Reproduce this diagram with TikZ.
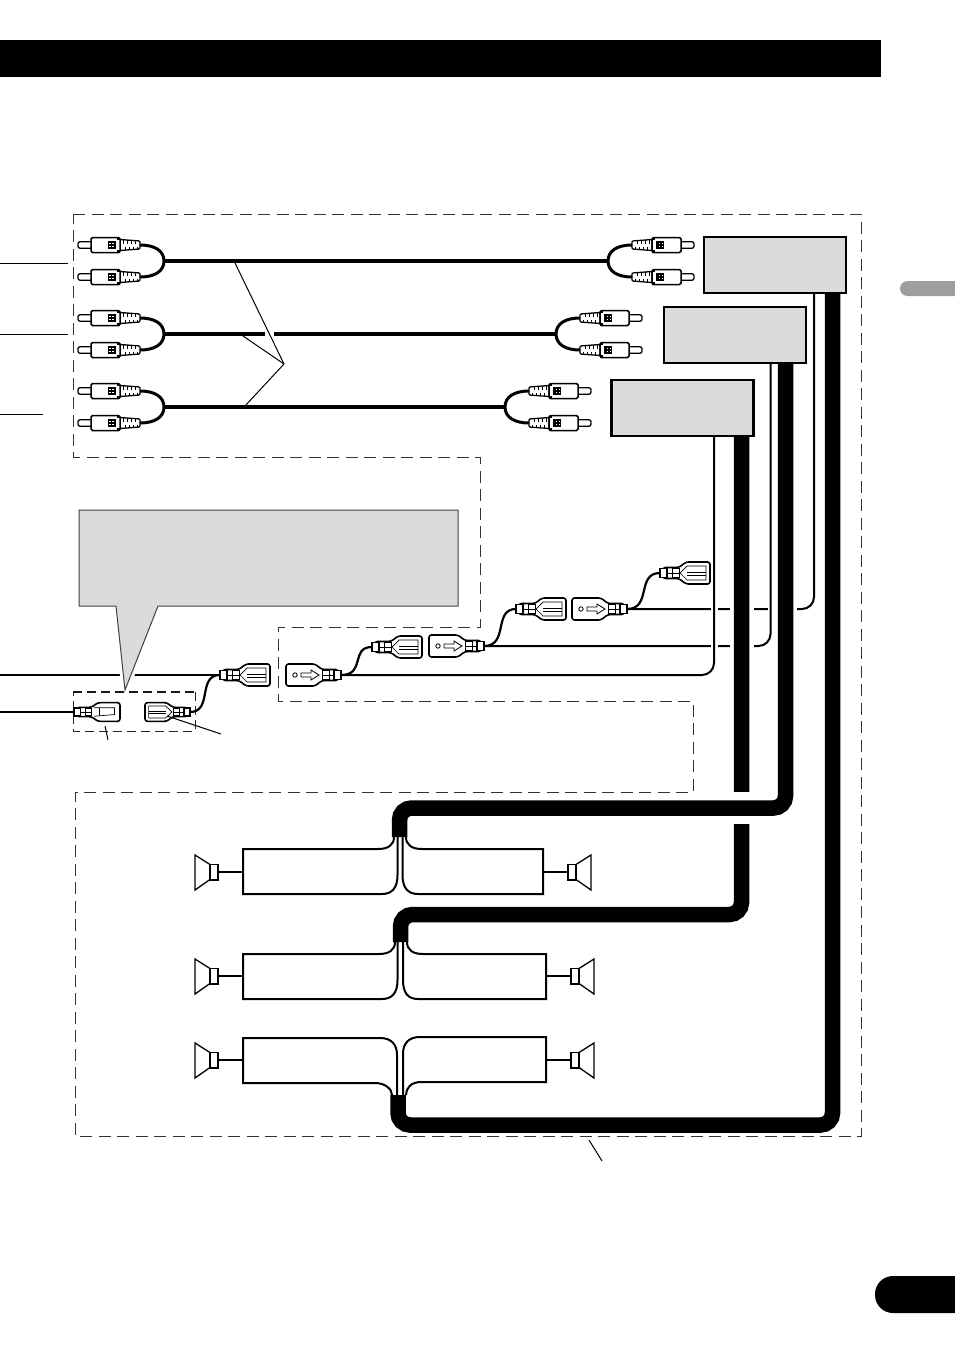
\documentclass[tikz,border=0pt]{standalone}
\definecolor{panelgray}{gray}{0.86}
\definecolor{tabgray}{gray}{0.62}
\newcommand{\plugneck}{%
    \draw[line width=1.6pt,fill=white,rounded corners=2.5pt]
        (3,-5.5) -- (19,-5.5) -- (26,-11) -- (\plughood,-11) -- (\plughood,11) -- (26,11) -- (19,5.5) -- (3,5.5) -- cycle;
    \draw[line width=1.8pt,fill=white] (0,-4.5) rectangle (7,4.5);
    \draw[line width=.7pt] (12,-4.5) rectangle (19,4.5);
    \draw[line width=.7pt] (7,0) -- (19,0);
}
\newcommand{\rcabody}{%
    \draw[line width=1.3pt,fill=white,rounded corners=2pt] (15,-3.2) -- (1,-3.2) -- (1,3.2) -- (15,3.2);
    \draw[line width=1.3pt,fill=white,rounded corners=1pt] (43,-5.5) -- (63,-4) -- (63,4) -- (43,5.5) -- cycle;
    \foreach \ribx in {46,50,54,58} {
        \draw[line width=.9pt] (\ribx,-5) -- (\ribx,-1.5);
        \draw[line width=.9pt] (\ribx+2,5) -- (\ribx+2,1.5);
    }
    \draw[line width=1.5pt,fill=white,rounded corners=1.5pt] (14,-7.5) rectangle (43,7.5);
    \fill (31,-3.7) rectangle (39,3.7);
    \draw[white,line width=1pt,dash pattern=on 1.5pt off 1.5pt] (32,-1.5) -- (38,-1.5);
    \draw[white,line width=1pt,dash pattern=on 1.5pt off 1.5pt] (32,1.5) -- (38,1.5);
    \fill (43,-7.5) rectangle (40,-5);
    \fill (43,7.5) rectangle (40,5);
}
\tikzset{
    plugA/.pic={
        \def\plughood{50}
        \plugneck
        \draw[line width=.7pt] (20,0) -- (27,-7) -- (46,-7) -- (46,7) -- (27,7) -- cycle;
        \draw[line width=.7pt] (27,-1) -- (46,-1);
        \draw[line width=.7pt] (27,2) -- (46,2);
    },
    plugB/.pic={
        \def\plughood{55}
        \plugneck
        \draw[line width=.8pt] (46,0) circle (2.2pt);
        \draw[line width=.8pt] (40,-2) -- (30,-2) -- (30,-5) -- (22,0) -- (30,5) -- (30,2) -- (40,2) -- cycle;
    },
    plugC/.pic={
        \def\plughood{50}
        \plugneck
        \draw[line width=.7pt] (22,-5) -- (44,-5) -- (44,3) -- (22,5);
        \draw[line width=.7pt] (28,-5) -- (28,5);
    },
    rcapair/.pic={
        \begin{scope}[shift={(-87,-16)}]
            \rcabody
        \end{scope}
        \begin{scope}[shift={(-87,16)}]
            \rcabody
        \end{scope}
        \draw[line width=3pt] (-24,-16) .. controls (-9,-16) and (0,-10) .. (0,0)
            .. controls (0,10) and (-9,16) .. (-24,16);
    },
    speaker/.pic={
        \draw[line width=1.3pt,fill=white] (0,-7.5) -- (-15,-17) -- (-15,18) -- (0,7.5) -- cycle;
        \draw[line width=1.3pt,fill=white] (0,-7.5) rectangle (8,8);
    },
    frameline/.style={line width=1pt,black!80,dash pattern=on 12pt off 6.5pt},
    audiounit/.style={draw,line width=2.2pt,fill=panelgray,inner sep=0pt,minimum width=142pt,minimum height=56pt},
    mainwire/.style={line width=3.6pt},
    plugwire/.style={line width=2.2pt},
    bundle/.style={line width=15.5pt,rounded corners=12pt,line cap=butt},
    thinwire/.style={line width=2pt,rounded corners=12pt},
    boxwire/.style={line width=2pt},
    leader/.style={line width=1pt},
    clearing/.style={white,line cap=butt},
}
\begin{document}
\begin{tikzpicture}[x=1pt,y=-1pt]
    \useasboundingbox (0,0) rectangle (954,1351);
    % page furniture
    \fill (0,40) rectangle (881,77);
    \fill[tabgray,rounded corners=7.5pt] (900,281) -- (970,281) -- (970,296) -- (900,296) -- cycle;
    \fill[rounded corners=18pt] (875,1313) -- (875,1276) -- (980,1276) -- (980,1313) -- cycle;

    % dashed frames
    \draw[frameline] (73,214) -- (861,214) -- (861,1136) -- (75,1136) -- (75,792) -- (693,792)
        -- (693,701) -- (278,701) -- (278,627) -- (480,627) -- (480,457) -- (73,457) -- cycle;

    % source side wire and speech bubble
    \coordinate (headA) at (0,675);
    \coordinate (headB) at (0,712);
    \coordinate (plugOne) at (220,675);
    \coordinate (plugTwo) at (74,712);
    \draw[plugwire] (headA) -- (plugOne);
    \draw[plugwire] (headB) -- (plugTwo);
    \draw[clearing,line width=7pt] (116,606) -- (125,690) -- (158,606);
    \draw[black!75,line width=1pt,fill=panelgray] (79,510) -- (458,510) -- (458,606) -- (158,606)
        -- (125,690) -- (116,606) -- (79,606) -- cycle;
    \draw[line width=2pt,black!90,dash pattern=on 9pt off 5pt] (73,692) -- (195,692);
    \draw[line width=1pt,black!85,dash pattern=on 9pt off 5pt] (195,692) -- (195,731) -- (73,731) -- (73,692);

    % rca leads
    \coordinate (jointAl) at (164,261);
    \coordinate (jointAr) at (608,261);
    \coordinate (jointBl) at (164,334);
    \coordinate (jointBr) at (556,334);
    \coordinate (jointCl) at (164,407);
    \coordinate (jointCr) at (505,407);
    \draw[mainwire] (jointAl) -- (jointAr);
    \draw[mainwire] (jointBl) -- (jointBr);
    \draw[mainwire] (jointCl) -- (jointCr);
    \pic at (jointAl) {rcapair};
    \pic at (jointBl) {rcapair};
    \pic at (jointCl) {rcapair};
    \pic[xscale=-1] at (jointAr) {rcapair};
    \pic[xscale=-1] at (jointBr) {rcapair};
    \pic[xscale=-1] at (jointCr) {rcapair};
    \draw[clearing,line width=9pt] (269.5,331) -- (269.5,337);
    \coordinate (leadTip) at (284,364);
    \draw[leader] (leadTip) -- (235,263);
    \draw[leader] (leadTip) -- (243,336);
    \draw[leader] (leadTip) -- (245,406);
    \coordinate (tickA) at (68,263);
    \coordinate (tickB) at (68,334);
    \coordinate (tickC) at (43,414);
    \draw[leader] (0,263) -- (tickA);
    \draw[leader] (0,334) -- (tickB);
    \draw[leader] (0,414) -- (tickC);

    % wires to the units
    \coordinate (plugEleven) at (627,609);
    \coordinate (plugNine) at (484,646);
    \coordinate (plugSeven) at (341,675);
    \coordinate (bundleBtop) at (785.5,363);
    \coordinate (bundleCtop) at (741.5,436);
    \draw[thinwire] (plugEleven) -- (814,609) -- (814,293);
    \draw[clearing,line width=23pt] (785.5,600) -- (785.5,620);
    \draw[clearing,line width=6pt] (770.5,600) -- (770.5,618);
    \draw[thinwire] (plugNine) -- (770.5,646) -- (770.5,363);
    \draw[clearing,line width=24pt] (741.5,600) -- (741.5,655);
    \draw[clearing,line width=7pt] (714,600) -- (714,655);
    \draw[thinwire] (plugSeven) -- (714,675) -- (714,436);

    % power cords
    \coordinate (bundleA) at (398,1095);
    \coordinate (bundleB) at (399.5,837);
    \coordinate (bundleC) at (400.5,942);
    \draw[bundle] (bundleCtop) -- (741.5,914.5) -- (400.5,914.5) -- (bundleC);
    \draw[clearing,line width=32pt] (725,808) -- (760,808);
    \draw[bundle] (bundleBtop) -- (785.5,808) -- (399.5,808) -- (bundleB);
    \draw[bundle] (832.5,293) -- (832.5,1125) -- (398,1125) -- (bundleA);

    % units
    \node[audiounit] (unitA) at (775,265) {};
    \node[audiounit] (unitB) at (735,335) {};
    \node[audiounit] (unitC) at (682.5,408) {};

    % plugs
    \pic[xscale=-1] at (plugEleven) {plugB};
    \pic[xscale=-1] at (plugNine) {plugB};
    \pic[xscale=-1] at (plugSeven) {plugB};
    \coordinate (plugTwelve) at (660,573);
    \coordinate (plugTen) at (516,609);
    \coordinate (plugEight) at (372,647);
    \coordinate (plugThree) at (190,712);
    \draw[plugwire] (plugEleven) .. controls (652,609) and (636,573) .. (plugTwelve);
    \draw[plugwire] (plugNine) .. controls (509,646) and (493,609) .. (plugTen);
    \draw[plugwire] (plugSeven) .. controls (366,675) and (350,647) .. (plugEight);
    \draw[plugwire] (plugThree) .. controls (213,712) and (197,675) .. (plugOne);
    \pic at (plugTwelve) {plugA};
    \pic at (plugTen) {plugA};
    \pic at (plugEight) {plugA};
    \pic at (plugOne) {plugA};
    \pic[xscale=-.9,yscale=.85] at (plugThree) {plugA};
    \pic[xscale=.92,yscale=.85] at (plugTwo) {plugC};
    \draw[leader] (105,726) -- (108,740);
    \draw[leader] (167,716) -- (221,734);

    % speaker boxes and their leads
    \draw[boxwire] (394,837) .. controls (394,845) and (388,849) .. (378,849) -- (243,849) -- (243,894)
        -- (382,894) .. controls (392,894) and (397.5,888) .. (397.5,875) -- (397.5,837);
    \draw[boxwire] (406,837) .. controls (406,845) and (412,849) .. (422,849) -- (543,849) -- (543,894)
        -- (418,894) .. controls (408,894) and (402.5,888) .. (402.5,875) -- (402.5,837);
    \draw[boxwire] (395,942) .. controls (395,950) and (389,954) .. (379,954) -- (243,954) -- (243,999)
        -- (382,999) .. controls (392,999) and (397.5,993) .. (397.5,980) -- (397.5,942);
    \draw[boxwire] (407,942) .. controls (407,950) and (413,954) .. (423,954) -- (546,954) -- (546,999)
        -- (418,999) .. controls (408,999) and (403,993) .. (403,980) -- (403,942);
    \draw[boxwire] (392,1095) .. controls (392,1089) and (385,1083) .. (375,1083) -- (243,1083) -- (243,1038)
        -- (380,1038) .. controls (391,1038) and (397,1044) .. (397,1055) -- (397,1095);
    \draw[boxwire] (406,1095) .. controls (406,1088) and (411,1082) .. (421,1082) -- (546,1082) -- (546,1037)
        -- (420,1037) .. controls (409,1037) and (403,1043) .. (403,1054) -- (403,1095);
    \coordinate (spkA) at (218,872);
    \coordinate (spkB) at (568,872);
    \coordinate (spkC) at (218,976);
    \coordinate (spkD) at (571,976);
    \coordinate (spkE) at (218,1060);
    \coordinate (spkF) at (571,1060);
    \draw[plugwire] (spkA) -- (243,872);
    \draw[plugwire] (spkB) -- (543,872);
    \draw[plugwire] (spkC) -- (243,976);
    \draw[plugwire] (spkD) -- (546,976);
    \draw[plugwire] (spkE) -- (243,1060);
    \draw[plugwire] (spkF) -- (546,1060);
    \pic at (210,872) {speaker};
    \pic[xscale=-1] at (576,872) {speaker};
    \pic at (210,976) {speaker};
    \pic[xscale=-1] at (579,976) {speaker};
    \pic at (210,1060) {speaker};
    \pic[xscale=-1] at (579,1060) {speaker};
    \draw[leader] (589,1140) -- (602,1161);
\end{tikzpicture}
\end{document}
